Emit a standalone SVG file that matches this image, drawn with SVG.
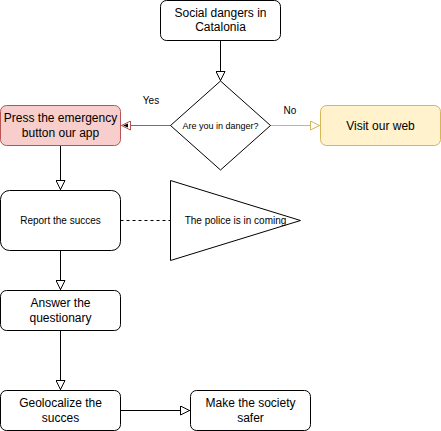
<svg xmlns="http://www.w3.org/2000/svg" width="441" height="431" viewBox="0 0 441 431">
<style>
.box{fill:#ffffff;stroke:#000000;stroke-width:1}
.red{fill:#f8cecc;stroke:#b85450;stroke-width:1}
.yel{fill:#fff2cc;stroke:#d6b656;stroke-width:1}
.t12{font-family:"Liberation Sans",Arial,sans-serif;font-size:12px;fill:#000;text-anchor:middle}
.t10{font-family:"Liberation Sans",Arial,sans-serif;font-size:10px;fill:#000;text-anchor:middle}
.t9{font-family:"Liberation Sans",Arial,sans-serif;font-size:9px;fill:#000;text-anchor:middle}
.edge{fill:none;stroke:#000;stroke-width:1}
</style>
<defs>
<marker id="ah" viewBox="0 0 10 10" refX="10" refY="5" markerWidth="10" markerHeight="10" markerUnits="userSpaceOnUse" orient="auto">
<path d="M0.5,0.5 L9.5,5 L0.5,9.5 Z" fill="#fff" stroke="#000" stroke-width="1"/>
</marker>
<marker id="ahr" viewBox="0 0 10 10" refX="10" refY="5" markerWidth="10" markerHeight="10" markerUnits="userSpaceOnUse" orient="auto">
<path d="M0.5,0.5 L9.5,5 L0.5,9.5 Z" fill="#fff" stroke="#b85450" stroke-width="1"/>
<path d="M3,3 L8,5 L3,7 Z" fill="#000"/>
</marker>
<marker id="ahy" viewBox="0 0 10 10" refX="10" refY="5" markerWidth="10" markerHeight="10" markerUnits="userSpaceOnUse" orient="auto">
<path d="M0.5,0.5 L9.5,5 L0.5,9.5 Z" fill="#fff" stroke="#d6b656" stroke-width="1"/>
</marker>
</defs>
<g id="connectors">
<path class="edge" d="M220.5,40.5 L220.5,81" marker-end="url(#ah)"/>
<path d="M171,125.5 L121,125.5" fill="none" stroke="#b85450" marker-end="url(#ahr)"/>
<path d="M270,125.5 L320,125.5" fill="none" stroke="#d6b656" marker-end="url(#ahy)"/>
<path class="edge" d="M60.5,145.5 L60.5,190" marker-end="url(#ah)"/>
<path class="edge" d="M120.5,220.5 L170.5,220.5" stroke-dasharray="3,3"/>
<path class="edge" d="M60.5,250.5 L60.5,290" marker-end="url(#ah)"/>
<path class="edge" d="M60.5,330.5 L60.5,390" marker-end="url(#ah)"/>
<path class="edge" d="M120.5,410.5 L190,410.5" marker-end="url(#ah)"/>
<text class="t10" x="151" y="104">Yes</text>
<text class="t10" x="290" y="114">No</text>
</g>
<g id="n-social">
<rect class="box" x="160.5" y="0.5" width="120" height="40" rx="6"/>
<text class="t12" x="220.5" y="17">Social dangers in</text>
<text class="t12" x="220.5" y="31">Catalonia</text>
</g>
<g id="n-danger">
<path class="box" d="M220.5,81 L270.5,125.5 L220.5,170 L170.5,125.5 Z"/>
<text class="t9" x="220.5" y="128.5">Are you in danger?</text>
</g>
<g id="n-press">
<rect class="red" x="0.5" y="105.5" width="120" height="40" rx="6"/>
<text class="t12" x="60.5" y="122">Press the emergency</text>
<text class="t12" x="60.5" y="137">button our app</text>
</g>
<g id="n-web">
<rect class="yel" x="320.5" y="105.5" width="120" height="40" rx="6"/>
<text class="t12" x="380.5" y="129.5">Visit our web</text>
</g>
<g id="n-report">
<rect class="box" x="0.5" y="190.5" width="120" height="60" rx="9"/>
<text class="t10" x="60.5" y="224">Report the succes</text>
</g>
<g id="n-police">
<path class="box" d="M170.5,180.5 L300.5,220.5 L170.5,260.5 Z"/>
<text class="t10" x="235.5" y="224">The police is in coming</text>
</g>
<g id="n-answer">
<rect class="box" x="0.5" y="290.5" width="120" height="40" rx="6"/>
<text class="t12" x="60.5" y="307">Answer the</text>
<text class="t12" x="60.5" y="322">questionary</text>
</g>
<g id="n-geo">
<rect class="box" x="0.5" y="390.5" width="120" height="40" rx="6"/>
<text class="t12" x="60.5" y="407">Geolocalize the</text>
<text class="t12" x="60.5" y="422">succes</text>
</g>
<g id="n-safer">
<rect class="box" x="190.5" y="390.5" width="120" height="40" rx="6"/>
<text class="t12" x="250.5" y="407">Make the society</text>
<text class="t12" x="250.5" y="422">safer</text>
</g>
</svg>
